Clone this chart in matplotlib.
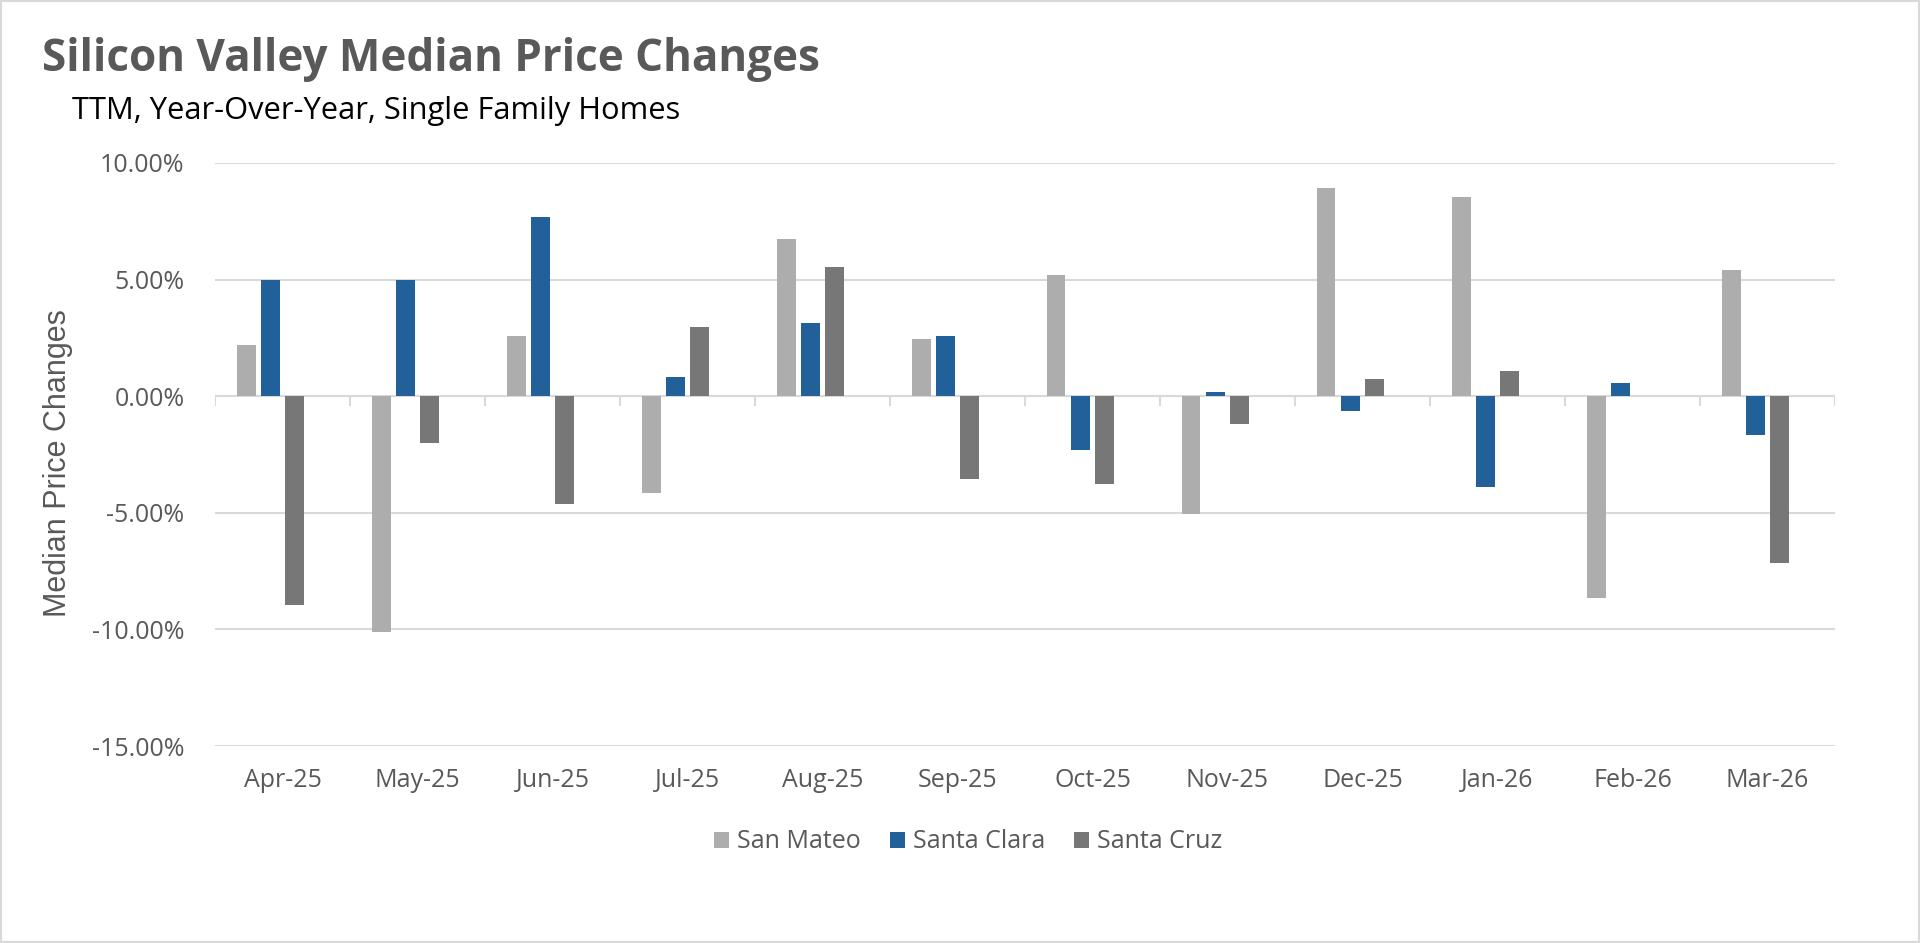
import numpy as np, matplotlib.pyplot as plt
from matplotlib.patches import Rectangle

months = ['Apr-25','May-25','Jun-25','Jul-25','Aug-25','Sep-25','Oct-25','Nov-25','Dec-25','Jan-26','Feb-26','Mar-26']
series_names = ['San Mateo','Santa Clara','Santa Cruz']
san_mateo = [2.20, -10.10, 2.57, -4.15, 6.74, 2.46, 5.21, -5.06, 8.93, 8.56, -8.64, 5.40]
santa_clara = [4.97, 5.00, 7.70, 0.81, 3.14, 2.59, -2.32, 0.19, -0.63, -3.90, 0.58, -1.67]
santa_cruz = [-8.94, -1.99, -4.64, 2.97, 5.54, -3.56, -3.77, -1.21, 0.75, 1.08, 0.0, -7.15]
yticks = [-15, -10, -5, 0, 5, 10]

colors = ['#ADADAD', '#22609A', '#777777']
grid_c = '#D9D9D9'; txt_c = '#595959'
plt.rcParams['font.family'] = ['Open Sans', 'DejaVu Sans']

fig = plt.figure(figsize=(19.2, 9.43), dpi=100)
ax = fig.add_axes([215/1920, 1-746/943, 1620/1920, 583/943])
x = np.arange(len(months)); step = 0.18; w = 0.14
for k, (vals, name) in enumerate(zip([san_mateo, santa_clara, santa_cruz], series_names)):
    ax.bar(x + (k-1.5)*step, vals, w, color=colors[k], label=name, zorder=3)

ax.set_xlim(-0.5, len(months)-0.5); ax.set_ylim(-15, 10)
ax.set_yticks(yticks); ax.set_yticklabels([f'{v:.2f}%' for v in yticks])
for v in yticks:
    ax.axhline(v, color=grid_c, lw=1.5, zorder=1)
tl = 25*10/583
ax.vlines(np.arange(len(months)+1)-0.5, -tl, 0, color=grid_c, lw=1.5, zorder=1)
ax.set_xticks(x); ax.set_xticklabels(months)
ax.tick_params(axis='both', length=0, labelsize=18, labelcolor=txt_c)
ax.tick_params(axis='y', pad=22)
ax.tick_params(axis='x', pad=16)
for s in ax.spines.values(): s.set_visible(False)
ax.set_ylabel('Median Price Changes', fontsize=22, color=txt_c, family=['Liberation Sans', 'DejaVu Sans'])
ax.yaxis.set_label_coords((73-215)/1620, 1-(463-163)/583)

fig.text(42/1920, 1-59/943, 'Silicon Valley Median Price Changes', fontsize=31.7, weight='bold', color=txt_c, va='center')
fig.text(72/1920, 1-111/943, 'TTM, Year-Over-Year, Single Family Homes', fontsize=22.2, color='black', va='center')

fig.legend(loc='center', bbox_to_anchor=(968/1920, 1-842/943), ncol=3, frameon=False, fontsize=18,
           handlelength=0.6, handleheight=0.6, handletextpad=0.32, columnspacing=1.16, labelcolor=txt_c)
fig.add_artist(Rectangle((0, 0), 1, 1, transform=fig.transFigure, fill=False, ec=grid_c, lw=3))
fig.savefig('out.png', dpi=100)
